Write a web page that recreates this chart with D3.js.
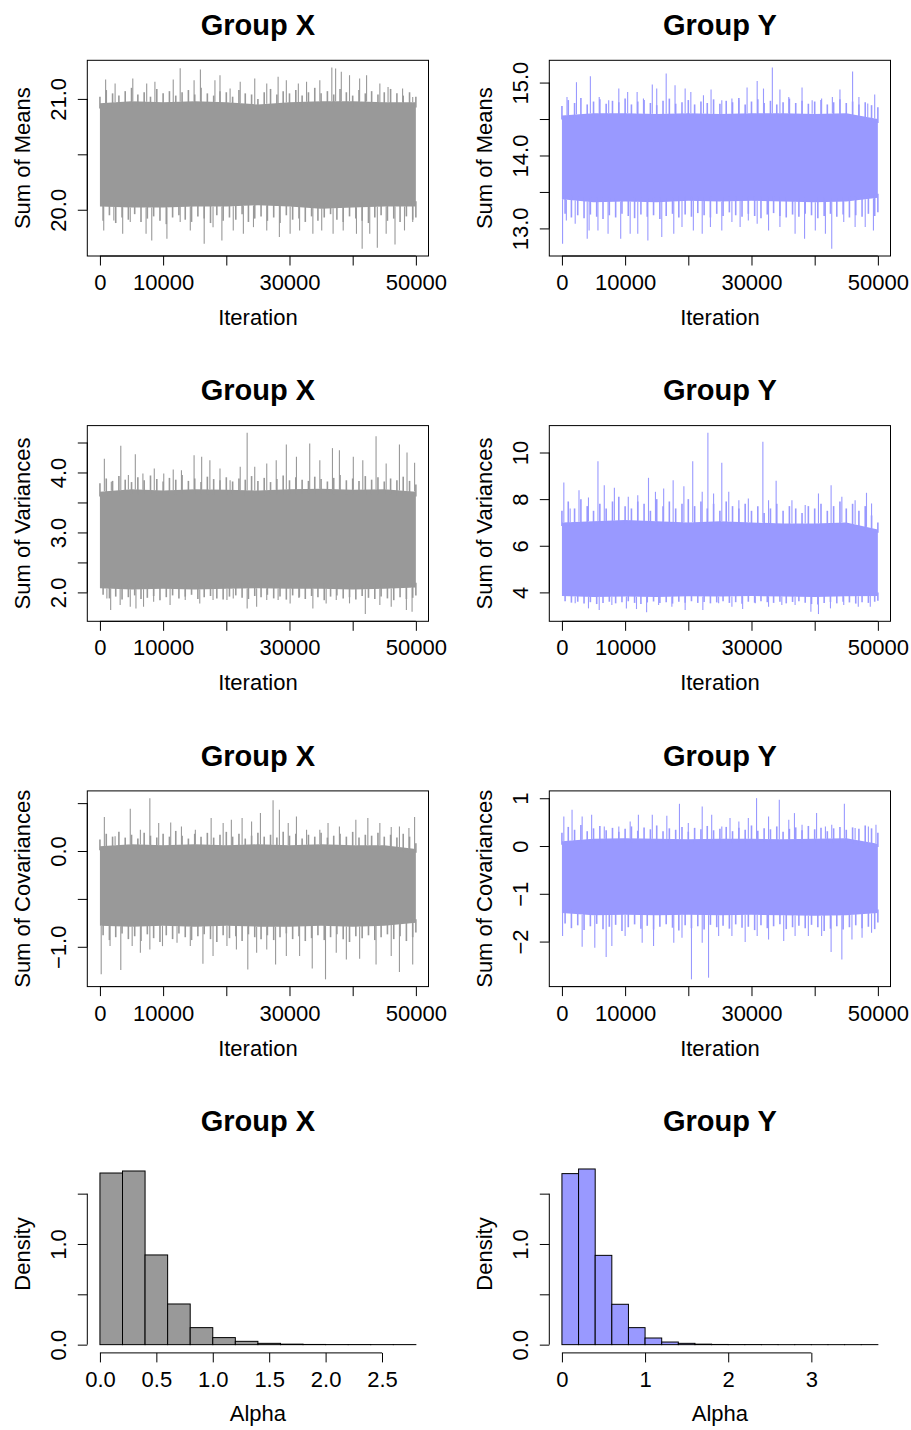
<!DOCTYPE html>
<html><head><meta charset="utf-8">
<script src="https://cdn.jsdelivr.net/npm/d3@7"></script>
<style>body{margin:0;background:#fff}svg{display:block}</style>
</head><body>
<svg id="c" width="911" height="1430"></svg>
<script>
// ---------------- DATA ----------------
const xTicks = [0, 10000, 20000, 30000, 40000, 50000];
const xTickLabels = ["0", "10000", "", "30000", "", "50000"];
const nIter = 50000;
const coreIter = [0,5000,10000,15000,20000,25000,30000,35000,40000,45000,50000];
const fringeIter = d3.range(0, 50001, 1000);

// Group X – Sum of Means
const meansX_coreHi = [20.96,20.98,20.97,20.98,20.97,20.95,20.97,20.98,20.98,20.97,20.97];
const meansX_coreLo = [20.03,20.02,20.02,20.03,20.03,20.04,20.03,20.01,20.02,20.03,20.03];
const meansX_fringeHi = [21.02,21.08,21.05,21.03,21.07,21.10,21.04,21.06,21.02,21.09,21.05,21.07,21.03,21.06,21.08,21.04,21.10,21.05,21.03,21.07,21.06,21.02,21.08,21.05,21.04,21.00,21.06,21.09,21.04,21.07,21.05,21.08,21.03,21.06,21.10,21.05,21.07,21.04,21.09,21.06,21.03,21.08,21.05,21.07,21.04,21.06,21.09,21.05,21.03,21.06,21.02];
const meansX_fringeLo = [19.90,19.95,19.88,19.93,19.91,19.96,19.89,19.92,19.94,19.90,19.87,19.93,19.95,19.91,19.89,19.94,19.92,19.88,19.95,19.90,19.93,19.91,19.96,19.89,19.92,19.94,19.90,19.93,19.88,19.95,19.91,19.92,19.89,19.94,19.90,19.93,19.96,19.91,19.89,19.94,19.92,19.90,19.88,19.93,19.95,19.90,19.92,19.89,19.94,19.91,19.93];
const meansX_spikesUp = [[900,21.175],[2400,21.139],[5200,21.184],[7400,21.139],[8700,21.154],[11600,21.175],[12700,21.277],[14900,21.169],[15900,21.265],[18200,21.169],[19000,21.214],[20600,21.093],[22200,21.154],[24500,21.184],[26400,21.139],[28200,21.199],[29500,21.169],[31400,21.139],[32700,21.154],[34800,21.169],[36700,21.283],[37300,21.274],[38200,21.244],[39500,21.214],[41100,21.184],[42200,21.214],[44300,21.139],[45600,21.108],[47900,21.093],[49500,21.018]];
const meansX_spikesDown = [[600,19.813],[2200,19.904],[3600,19.783],[4800,19.889],[7300,19.783],[8200,19.723],[10600,19.738],[12700,19.889],[14300,19.813],[16500,19.693],[17900,19.843],[19300,19.723],[21100,19.813],[22700,19.783],[24300,19.843],[26400,19.813],[28400,19.753],[30100,19.783],[31600,19.813],[33700,19.783],[35100,19.813],[36900,19.783],[38500,19.813],[40600,19.783],[41500,19.648],[42700,19.783],[43900,19.657],[45300,19.783],[46700,19.687],[48200,19.813],[49500,19.889]];

// Group Y – Sum of Means
const meansY_coreHi = [14.55,14.58,14.58,14.57,14.58,14.57,14.58,14.58,14.57,14.58,14.50];
const meansY_coreLo = [13.40,13.36,13.37,13.36,13.38,13.37,13.38,13.37,13.36,13.37,13.42];
const meansY_fringeHi = [14.68,14.76,14.72,14.79,14.70,14.74,14.77,14.71,14.75,14.73,14.78,14.70,14.74,14.76,14.72,14.69,14.75,14.78,14.71,14.73,14.76,14.70,14.74,14.72,14.77,14.71,14.75,14.73,14.79,14.70,14.74,14.77,14.72,14.75,14.70,14.73,14.78,14.72,14.75,14.71,14.74,14.76,14.70,14.73,14.77,14.72,14.74,14.70,14.73,14.69,14.66];
const meansY_fringeLo = [13.20,13.15,13.18,13.14,13.19,13.16,13.13,13.18,13.15,13.20,13.17,13.14,13.19,13.16,13.18,13.13,13.17,13.20,13.15,13.19,13.16,13.21,13.18,13.15,13.20,13.17,13.22,13.18,13.16,13.20,13.17,13.14,13.19,13.21,13.17,13.15,13.19,13.16,13.20,13.18,13.14,13.17,13.20,13.16,13.19,13.15,13.18,13.16,13.20,13.17,13.22];
const meansY_spikesUp = [[800,14.803],[2300,15.005],[4500,15.087],[5900,14.803],[7400,14.757],[9000,14.918],[10400,14.872],[11900,14.872],[12900,14.780],[14300,14.973],[15000,14.918],[16500,15.124],[17900,14.963],[19500,14.918],[20400,14.872],[22400,14.826],[23600,14.904],[25300,14.757],[26900,14.780],[28000,14.757],[29300,14.931],[30900,15.023],[31900,14.918],[33300,15.206],[34500,14.904],[35900,14.803],[38000,14.931],[39600,14.757],[41100,14.780],[42800,14.803],[44000,14.904],[46000,15.151],[47000,14.803],[48400,14.712],[49500,14.835]];
const meansY_spikesDown = [[100,12.789],[700,13.110],[2100,13.064],[4000,12.858],[4300,12.973],[5700,12.973],[7300,12.927],[9300,12.858],[10800,12.927],[12000,12.927],[13600,12.835],[15800,12.881],[17700,12.927],[19000,13.018],[20800,12.973],[22200,12.927],[23500,13.018],[25300,12.973],[26900,13.087],[28200,13.018],[29500,13.110],[30900,13.064],[32700,12.973],[34500,13.018],[36900,12.927],[38400,12.858],[40100,12.973],[41700,12.927],[42700,12.721],[44600,13.087],[46400,13.018],[48000,13.018],[49300,12.973]];

// Group X – Sum of Variances
const varX_coreHi = [3.68,3.72,3.70,3.72,3.71,3.70,3.72,3.73,3.71,3.72,3.68];
const varX_coreLo = [2.07,2.05,2.06,2.05,2.06,2.07,2.06,2.06,2.05,2.06,2.08];
const varX_fringeHi = [3.82,3.90,3.86,3.94,3.88,3.84,3.92,3.87,3.95,3.89,3.85,3.91,3.88,3.96,3.86,3.90,3.84,3.93,3.89,3.87,3.92,3.85,3.90,3.88,3.94,3.86,3.91,3.84,3.89,3.95,3.87,3.92,3.88,3.86,3.93,3.89,3.85,3.91,3.96,3.87,3.90,3.86,3.94,3.88,3.92,3.85,3.90,3.87,3.93,3.86,3.80];
const varX_fringeLo = [1.96,1.90,1.93,1.88,1.92,1.95,1.89,1.91,1.94,1.87,1.92,1.95,1.90,1.93,1.96,1.89,1.92,1.94,1.90,1.88,1.93,1.95,1.91,1.89,1.94,1.92,1.96,1.90,1.93,1.88,1.95,1.91,1.89,1.94,1.92,1.87,1.93,1.95,1.90,1.92,1.88,1.94,1.91,1.89,1.93,1.90,1.87,1.92,1.89,1.91,1.95];
const varX_spikesUp = [[700,4.228],[1800,3.844],[3300,4.444],[4500,3.956],[5600,4.306],[6800,3.983],[8600,4.067],[10100,3.983],[11600,4.050],[12900,4.039],[14900,4.289],[16100,4.261],[17400,4.206],[19000,4.067],[20600,3.872],[22200,4.094],[23300,4.661],[24500,4.094],[26400,4.150],[27900,4.206],[29500,4.467],[31100,4.261],[33200,4.483],[34800,4.206],[36800,4.406],[37900,4.372],[40100,4.261],[41600,4.206],[43700,4.606],[45300,4.150],[47400,4.467],[48600,4.333],[49800,4.161]];
const varX_spikesDown = [[1100,1.900],[1700,1.706],[3200,1.789],[4800,1.761],[5700,1.733],[6900,1.761],[8500,1.844],[11100,1.789],[13500,1.872],[15800,1.817],[17900,1.872],[20100,1.872],[21100,1.900],[23300,1.733],[24800,1.761],[26400,1.872],[28200,1.872],[30100,1.817],[31600,1.928],[33700,1.733],[35800,1.817],[37400,1.872],[39500,1.817],[42000,1.639],[44300,1.789],[46100,1.761],[48500,1.706],[49400,1.678]];

// Group Y – Sum of Variances
const varY_coreHi = [7.00,7.05,7.10,7.05,7.00,7.05,7.00,6.95,6.95,7.00,6.70];
const varY_coreLo = [3.85,3.80,3.82,3.80,3.83,3.82,3.84,3.82,3.80,3.83,3.85];
const varY_fringeHi = [7.5,7.9,7.6,8.0,7.7,7.5,7.8,7.6,7.9,8.1,7.7,7.6,7.9,7.8,7.5,8.0,7.7,7.9,7.6,7.8,8.0,7.7,7.9,7.6,7.8,7.5,7.9,7.7,7.6,7.8,7.5,7.7,7.4,7.6,7.8,7.5,7.7,7.6,7.4,7.7,7.6,7.8,7.5,7.7,7.9,7.6,7.8,7.5,7.7,7.3,7.0];
const varY_fringeLo = [3.62,3.56,3.60,3.52,3.58,3.50,3.55,3.60,3.53,3.58,3.62,3.55,3.50,3.57,3.61,3.54,3.58,3.52,3.60,3.56,3.62,3.55,3.59,3.53,3.57,3.62,3.55,3.58,3.51,3.60,3.56,3.62,3.58,3.55,3.60,3.53,3.59,3.62,3.56,3.50,3.48,3.55,3.59,3.53,3.60,3.57,3.52,3.58,3.55,3.60,3.64];
const varY_spikesUp = [[300,8.714],[1300,7.600],[2700,8.386],[4200,8.071],[5700,9.629],[6700,8.600],[8300,8.486],[10500,8.100],[12000,8.171],[13700,8.914],[14800,8.314],[16100,8.457],[17600,8.814],[19300,8.557],[20700,9.629],[22200,8.314],[23100,10.843],[24000,8.243],[25300,9.557],[26400,8.314],[28000,7.957],[29500,8.029],[31800,10.457],[32700,7.957],[33900,8.786],[36400,7.957],[38500,7.743],[40600,8.243],[42600,8.600],[44300,8.100],[46400,7.957],[48200,8.271],[49000,7.814]];
const varY_spikesDown = [[2100,3.529],[4200,3.314],[5900,3.243],[7900,3.457],[10200,3.314],[11800,3.286],[13400,3.143],[15300,3.457],[17400,3.386],[19500,3.243],[22300,3.243],[24800,3.529],[26900,3.386],[28600,3.286],[30600,3.529],[32700,3.386],[34800,3.457],[36900,3.457],[39400,3.171],[40600,3.071],[42500,3.314],[44600,3.457],[46900,3.386],[48800,3.386]];

// Group X – Sum of Covariances
const covX_coreHi = [0.05,0.07,0.06,0.07,0.06,0.07,0.06,0.07,0.06,0.06,0.02];
const covX_coreLo = [-0.78,-0.79,-0.78,-0.79,-0.78,-0.79,-0.79,-0.78,-0.79,-0.78,-0.75];
const covX_fringeHi = [0.12,0.18,0.15,0.20,0.14,0.17,0.13,0.19,0.16,0.14,0.18,0.15,0.21,0.16,0.13,0.18,0.15,0.19,0.14,0.17,0.20,0.15,0.18,0.13,0.16,0.19,0.15,0.17,0.14,0.20,0.16,0.18,0.13,0.17,0.15,0.19,0.14,0.16,0.18,0.15,0.20,0.14,0.17,0.16,0.19,0.15,0.17,0.14,0.18,0.15,0.08];
const covX_fringeLo = [-0.88,-0.93,-0.90,-0.86,-0.92,-0.89,-0.94,-0.87,-0.91,-0.95,-0.88,-0.92,-0.86,-0.90,-0.93,-0.89,-0.87,-0.92,-0.95,-0.88,-0.91,-0.89,-0.94,-0.87,-0.90,-0.92,-0.88,-0.93,-0.90,-0.86,-0.92,-0.89,-0.94,-0.91,-0.88,-0.93,-0.90,-0.87,-0.92,-0.95,-0.89,-0.91,-0.88,-0.93,-0.90,-0.87,-0.92,-0.89,-0.94,-0.90,-0.85];
const covX_spikesUp = [[700,0.354],[2400,0.153],[4800,0.441],[6400,0.222],[7900,0.552],[9300,0.292],[11200,0.299],[12900,0.257],[15100,0.222],[17600,0.344],[19500,0.292],[20800,0.326],[22500,0.344],[24000,0.309],[25400,0.396],[27400,0.531],[28400,0.431],[29800,0.292],[31100,0.361],[32700,0.222],[34800,0.222],[36100,0.292],[37900,0.257],[40500,0.326],[42400,0.344],[44300,0.292],[46100,0.250],[47400,0.257],[48900,0.240],[49800,0.354]];
const covX_spikesDown = [[200,-1.288],[1600,-0.993],[3300,-1.243],[5100,-0.993],[6400,-1.063],[7900,-1.028],[9900,-0.993],[12200,-0.958],[14300,-0.993],[16300,-1.177],[17900,-1.097],[20100,-0.993],[21600,-1.028],[23400,-1.236],[24800,-1.063],[26400,-1.028],[27800,-1.184],[29500,-1.097],[31600,-1.097],[33600,-1.226],[35700,-1.340],[37400,-1.063],[39000,-1.132],[41100,-1.125],[43700,-1.184],[46100,-1.097],[47400,-1.264],[49500,-1.184]];

// Group Y – Sum of Covariances
const covY_coreHi = [0.10,0.15,0.16,0.15,0.14,0.15,0.15,0.14,0.15,0.16,0.05];
const covY_coreLo = [-1.40,-1.45,-1.44,-1.45,-1.44,-1.45,-1.44,-1.45,-1.46,-1.45,-1.40];
const covY_fringeHi = [0.28,0.40,0.34,0.44,0.31,0.37,0.42,0.33,0.38,0.30,0.36,0.41,0.32,0.39,0.35,0.43,0.31,0.37,0.34,0.40,0.30,0.38,0.35,0.42,0.33,0.36,0.40,0.31,0.38,0.34,0.43,0.32,0.37,0.35,0.41,0.30,0.36,0.39,0.33,0.42,0.35,0.38,0.31,0.37,0.40,0.34,0.39,0.36,0.43,0.37,0.28];
const covY_fringeLo = [-1.62,-1.72,-1.66,-1.76,-1.68,-1.63,-1.74,-1.69,-1.65,-1.78,-1.70,-1.64,-1.73,-1.67,-1.75,-1.69,-1.64,-1.71,-1.77,-1.66,-1.72,-1.68,-1.75,-1.65,-1.70,-1.67,-1.73,-1.64,-1.71,-1.69,-1.76,-1.66,-1.72,-1.68,-1.64,-1.74,-1.70,-1.67,-1.72,-1.65,-1.70,-1.78,-1.73,-1.68,-1.75,-1.70,-1.66,-1.72,-1.69,-1.74,-1.60];
const covY_spikesUp = [[300,0.619],[1600,0.759],[3200,0.619],[4700,0.654],[6700,0.411],[9000,0.411],[10800,0.515],[12100,0.654],[14300,0.654],[16600,0.633],[18600,0.884],[20000,0.480],[22200,0.828],[23700,0.654],[25300,0.411],[26600,0.585],[28000,0.515],[29500,0.585],[30800,1.002],[32700,0.619],[34400,0.967],[35900,0.550],[36800,0.689],[38000,0.445],[40300,0.689],[41700,0.411],[42700,0.445],[44700,0.884],[46400,0.376],[48500,0.411],[49700,0.445]];
const covY_spikesDown = [[100,-1.886],[3200,-2.109],[5200,-2.129],[7000,-2.324],[7900,-2.095],[10000,-1.886],[12700,-2.025],[14500,-2.095],[17700,-2.025],[19000,-1.921],[20500,-2.791],[22200,-2.025],[23200,-2.756],[24800,-1.886],[26900,-1.886],[29000,-2.011],[30900,-1.886],[32700,-1.955],[35100,-1.990],[36900,-1.886],[39000,-1.886],[41100,-1.886],[42600,-2.220],[44300,-2.373],[45900,-1.955],[47500,-1.921],[49000,-1.816]];

// Histograms of Alpha (density per bin of width 0.2)
const binWidth = 0.2;
const alphaX_density = [1.705,1.725,0.891,0.404,0.169,0.070,0.033,0.013,0.005,0.002,0.001,0.001,0.0005,0.0005];
const alphaY_density = [1.699,1.745,0.887,0.401,0.169,0.066,0.026,0.013,0.005,0.002,0.001,0.001,0.0005,0,0.0003,0,0,0,0.0003];
const alphaX_ticks = [0, 0.5, 1.0, 1.5, 2.0, 2.5];
const alphaX_tickLabels = ["0.0","0.5","1.0","1.5","2.0","2.5"];
const alphaY_ticks = [0, 1, 2, 3];
const alphaY_tickLabels = ["0","1","2","3"];
const densityTicks = [0, 0.5, 1.0, 1.5];
const densityTickLabels = ["0.0","","1.0",""];
const densityLim = [0, 1.80];

// ---------------- LAYOUT / STYLE ----------------
const GRAY = "#999999", BLUE = "#9999FF";
const FONT = "'Liberation Sans', Arial, Helvetica, sans-serif";
const FS = 22, TFS = 29;
const colLeft = [87.3, 549.3], boxW = 341.2, rowTop0 = 60.3, rowPitch = 365.3, boxH = 195.7;
const TICK = 9.5;
const svg = d3.select("#c");
const minus = s => s.replace(/-/g, "\u2212");

function rRange(lo, hi) { const p = (hi - lo) * 0.04; return [lo - p, hi + p]; }

function frame(col, row) {
  const L = colLeft[col], T = rowTop0 + row * rowPitch;
  return {L, T, R: L + boxW, B: T + boxH};
}

function titles(f, title, xlab, ylab) {
  const cx = (f.L + f.R) / 2, cy = (f.T + f.B) / 2;
  svg.append("text").attr("x", cx).attr("y", f.T - 25.3).attr("text-anchor", "middle")
    .attr("font-family", FONT).attr("font-size", TFS).attr("font-weight", "bold").text(title);
  svg.append("text").attr("x", cx).attr("y", f.B + 69).attr("text-anchor", "middle")
    .attr("font-family", FONT).attr("font-size", FS).text(xlab);
  svg.append("text").attr("transform", `translate(${f.L - 57},${cy}) rotate(-90)`).attr("text-anchor", "middle")
    .attr("font-family", FONT).attr("font-size", FS).text(ylab);
}

function bottomAxis(f, x, ticks, labels, yPos) {
  const g = svg.append("g").attr("transform", `translate(0,${yPos})`)
    .call(d3.axisBottom(x).tickValues(ticks).tickFormat((d, i) => labels[i]).tickSize(TICK).tickSizeOuter(0));
  g.select(".domain").remove();
  g.append("line").attr("x1", x(ticks[0])).attr("x2", x(ticks[ticks.length - 1])).attr("stroke", "#000");
  g.selectAll(".tick line").attr("stroke", "#000");
  g.selectAll(".tick text").attr("y", 34).attr("dy", null).attr("font-family", FONT).attr("font-size", FS).attr("fill", "#000");
}

function leftAxis(f, y, ticks, labels) {
  const g = svg.append("g").attr("transform", `translate(${f.L},0)`)
    .call(d3.axisLeft(y).tickValues(ticks).tickFormat((d, i) => minus(labels[i])).tickSize(TICK).tickSizeOuter(0));
  g.select(".domain").remove();
  g.append("line").attr("y1", y(ticks[0])).attr("y2", y(ticks[ticks.length - 1])).attr("stroke", "#000");
  g.selectAll(".tick line").attr("stroke", "#000");
  g.selectAll(".tick text").attr("x", 0).attr("y", -21).attr("dy", null).attr("transform", "rotate(-90)")
    .attr("text-anchor", "middle").attr("font-family", FONT).attr("font-size", FS).attr("fill", "#000");
}

function tracePanel(col, row, p) {
  const f = frame(col, row);
  const allVals = p.spikesUp.map(d => d[1]).concat(p.spikesDown.map(d => d[1]));
  const x = d3.scaleLinear().domain(rRange(0, nIter)).range([f.L, f.R]);
  const y = d3.scaleLinear().domain(rRange(d3.min(allVals), d3.max(allVals))).range([f.B, f.T]);
  const hiAt = d3.scaleLinear().domain(coreIter).range(p.coreHi);
  const loAt = d3.scaleLinear().domain(coreIter).range(p.coreLo);
  const g = svg.append("g");
  g.append("path").datum(coreIter.map((t, i) => i))
    .attr("d", d3.area().x(i => x(coreIter[i])).y0(i => y(p.coreLo[i])).y1(i => y(p.coreHi[i])))
    .attr("fill", p.color);
  const lines = [];
  fringeIter.forEach((t, i) => {
    lines.push({t, a: hiAt(t) - 0.05 * (hiAt(t) - loAt(t)), b: p.fringeHi[i], w: 1.6});
    const t2 = Math.min(t + 500, nIter);
    lines.push({t: t2, a: loAt(t2) + 0.05 * (hiAt(t2) - loAt(t2)), b: p.fringeLo[i], w: 1.6});
  });
  p.spikesUp.forEach(d => lines.push({t: d[0], a: hiAt(d[0]), b: d[1], w: 1.1}));
  p.spikesDown.forEach(d => lines.push({t: d[0], a: loAt(d[0]), b: d[1], w: 1.1}));
  g.selectAll("line.s").data(lines).enter().append("line")
    .attr("x1", d => x(d.t)).attr("x2", d => x(d.t)).attr("y1", d => y(d.a)).attr("y2", d => y(d.b))
    .attr("stroke", p.color).attr("stroke-width", d => d.w);
  svg.append("rect").attr("x", f.L).attr("y", f.T).attr("width", boxW).attr("height", boxH)
    .attr("fill", "none").attr("stroke", "#000").attr("stroke-width", 1);
  bottomAxis(f, x, xTicks, xTickLabels, f.B);
  leftAxis(f, y, p.yTicks, p.yTickLabels);
  titles(f, p.title, "Iteration", p.ylab);
}

function histPanel(col, row, p) {
  const f = frame(col, row);
  const nb = p.density.length;
  const x = d3.scaleLinear().domain(rRange(0, nb * binWidth)).range([f.L, f.R]);
  const y = d3.scaleLinear().domain(rRange(densityLim[0], densityLim[1])).range([f.B, f.T]);
  svg.append("g").selectAll("rect").data(p.density).enter().append("rect")
    .attr("x", (d, i) => x(i * binWidth)).attr("width", x(binWidth) - x(0))
    .attr("y", d => y(d)).attr("height", d => Math.max(y(0) - y(d), 0.01))
    .attr("fill", p.color).attr("stroke", "#000").attr("stroke-width", 1);
  bottomAxis(f, x, p.xTicks, p.xTickLabels, f.B + 1);
  leftAxis(f, y, densityTicks, densityTickLabels);
  titles(f, p.title, "Alpha", "Density");
}

tracePanel(0, 0, {title: "Group X", ylab: "Sum of Means", color: GRAY, coreHi: meansX_coreHi, coreLo: meansX_coreLo, fringeHi: meansX_fringeHi, fringeLo: meansX_fringeLo, spikesUp: meansX_spikesUp, spikesDown: meansX_spikesDown, yTicks: [20.0, 20.5, 21.0], yTickLabels: ["20.0", "", "21.0"]});
tracePanel(1, 0, {title: "Group Y", ylab: "Sum of Means", color: BLUE, coreHi: meansY_coreHi, coreLo: meansY_coreLo, fringeHi: meansY_fringeHi, fringeLo: meansY_fringeLo, spikesUp: meansY_spikesUp, spikesDown: meansY_spikesDown, yTicks: [13.0, 13.5, 14.0, 14.5, 15.0], yTickLabels: ["13.0", "", "14.0", "", "15.0"]});
tracePanel(0, 1, {title: "Group X", ylab: "Sum of Variances", color: GRAY, coreHi: varX_coreHi, coreLo: varX_coreLo, fringeHi: varX_fringeHi, fringeLo: varX_fringeLo, spikesUp: varX_spikesUp, spikesDown: varX_spikesDown, yTicks: [2.0, 2.5, 3.0, 3.5, 4.0, 4.5], yTickLabels: ["2.0", "", "3.0", "", "4.0", ""]});
tracePanel(1, 1, {title: "Group Y", ylab: "Sum of Variances", color: BLUE, coreHi: varY_coreHi, coreLo: varY_coreLo, fringeHi: varY_fringeHi, fringeLo: varY_fringeLo, spikesUp: varY_spikesUp, spikesDown: varY_spikesDown, yTicks: [4, 6, 8, 10], yTickLabels: ["4", "6", "8", "10"]});
tracePanel(0, 2, {title: "Group X", ylab: "Sum of Covariances", color: GRAY, coreHi: covX_coreHi, coreLo: covX_coreLo, fringeHi: covX_fringeHi, fringeLo: covX_fringeLo, spikesUp: covX_spikesUp, spikesDown: covX_spikesDown, yTicks: [-1.0, -0.5, 0.0, 0.5], yTickLabels: ["-1.0", "", "0.0", ""]});
tracePanel(1, 2, {title: "Group Y", ylab: "Sum of Covariances", color: BLUE, coreHi: covY_coreHi, coreLo: covY_coreLo, fringeHi: covY_fringeHi, fringeLo: covY_fringeLo, spikesUp: covY_spikesUp, spikesDown: covY_spikesDown, yTicks: [-2, -1, 0, 1], yTickLabels: ["-2", "-1", "0", "1"]});
histPanel(0, 3, {title: "Group X", color: GRAY, density: alphaX_density, xTicks: alphaX_ticks, xTickLabels: alphaX_tickLabels});
histPanel(1, 3, {title: "Group Y", color: BLUE, density: alphaY_density, xTicks: alphaY_ticks, xTickLabels: alphaY_tickLabels});
</script>
</body></html>
